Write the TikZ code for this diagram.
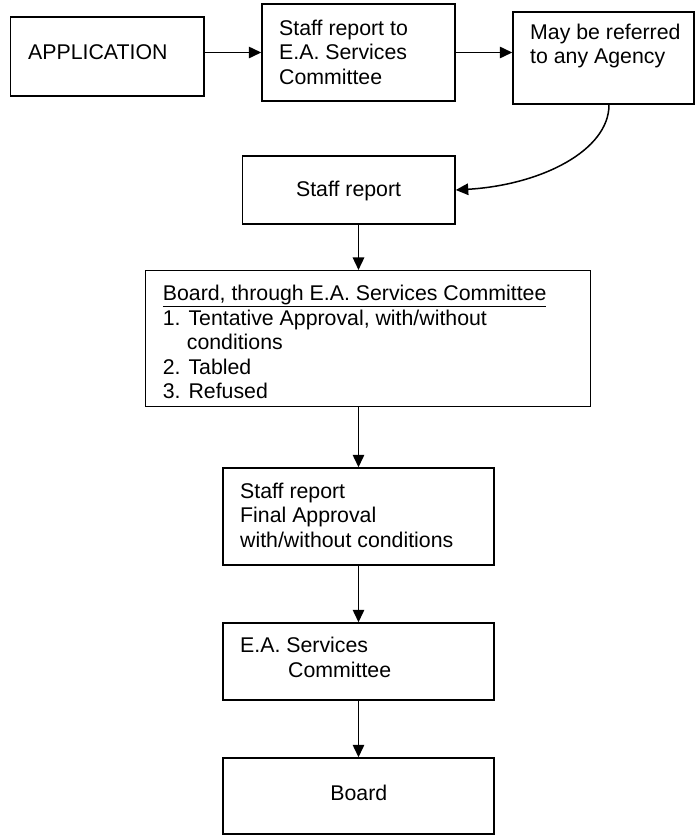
\documentclass[tikz,border=0pt]{standalone}
\usepackage{fontspec}
\setmainfont{Liberation Sans}
\usetikzlibrary{arrows.meta}
\begin{document}
\begin{tikzpicture}[x=1pt,y=1pt,
  box/.style={draw=black,line width=1.5pt,inner sep=0pt,rectangle},
  txt/.style={inner sep=0pt,align=left,font=\fontsize{21.3pt}{24.5pt}\selectfont},
  arr/.style={draw=black,line width=1.5pt,-{Triangle[length=12.5pt,width=11.5pt]}}]
\useasboundingbox (0,0) rectangle (695,-835);
% boxes
\node[box,minimum width=193.3pt,minimum height=79pt] (app) at (107.35,-56.5) {};
\node[box,minimum width=193pt,minimum height=97pt] (staff1) at (358.5,-52.5) {};
\node[box,minimum width=181pt,minimum height=92pt] (may) at (603.5,-58) {};
\node[box,minimum width=212.5pt,minimum height=68pt] (staff2) at (348.75,-190) {};
\node[box,minimum width=445pt,minimum height=136pt] (board) at (368.2,-338.7) {};
\node[box,minimum width=271pt,minimum height=97pt] (final) at (358.5,-516.5) {};
\node[box,minimum width=271pt,minimum height=77pt] (ea) at (358.5,-661.5) {};
\node[box,minimum width=271pt,minimum height=76pt] (boardf) at (358.5,-796) {};
% texts
\node[txt,anchor=west] (appt) at (28,-52) {APPLICATION};
\node[txt,anchor=west] (staff1t) at (279,-52) {Staff report to\\E.A. Services\\Committee};
\node[txt,anchor=west] (mayt) at (530,-46) {May be referred\\to any Agency};
\node[txt] (staff2t) at (348.6,-191) {Staff report};
\node[txt,anchor=west] (boardt) at (162.7,-342) {\underline{Board, through E.A. Services Committee}\\1. Tentative Approval, with/without\\\hspace*{24pt}conditions\\2. Tabled\\3. Refused};
\node[txt,anchor=west] (finalt) at (240,-515) {Staff report\\Final Approval\\with/without conditions};
\node[txt,anchor=west] (eat) at (240,-657.5) {E.A. Services\\\hspace*{48pt}Committee};
\node[txt] (boardft) at (358.8,-793) {Board};
% connectors
\draw[arr] (app.east |- staff1.west) -- (staff1.west);
\draw[arr] (staff1.east) -- (staff1.east -| may.west);
\draw[arr] ([xshift=5.5pt]may.south) .. controls ([xshift=5.5pt,yshift=-46pt]may.south) and ([xshift=85pt,yshift=5pt]staff2.east) .. (staff2.east);
\draw[arr] (final.north |- staff2.south) -- (final.north |- board.north);
\draw[arr] (final.north |- board.south) -- (final.north);
\draw[arr] (final.south) -- (ea.north);
\draw[arr] (ea.south) -- (boardf.north);
\end{tikzpicture}
\end{document}
